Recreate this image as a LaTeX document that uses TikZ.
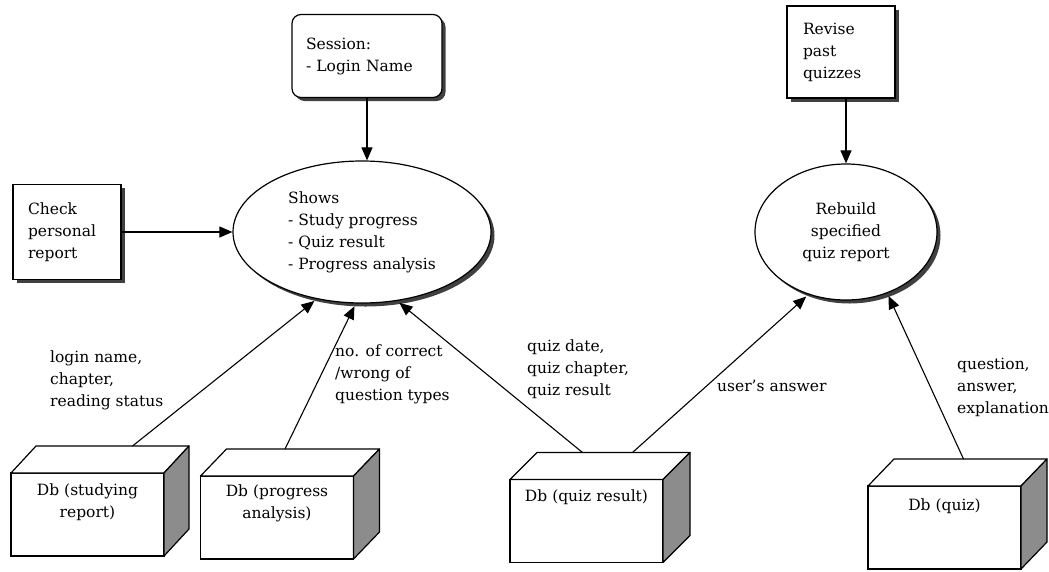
\documentclass[tikz,border=0pt]{standalone}
\usepackage{fontspec}
\setmainfont{DejaVu Serif}
\usetikzlibrary{shapes.geometric,arrows.meta,shadows}

\begin{document}
\begin{tikzpicture}[x=1pt,y=-1pt,
  every node/.style={font=\fontsize{15.5}{22}\selectfont},
  conn/.style={line width=1.1pt},
  arr/.style={conn,-{Triangle[length=13pt,width=11pt]}},
  solidshadow/.style={drop shadow={shadow xshift=3.5pt,shadow yshift=-3.5pt,opacity=1,fill=black!75}},
  plainbox/.style={draw,line width=1.2pt,fill=white,rectangle,solidshadow,inner ysep=0pt,align=left},
  oval/.style={draw,line width=1.2pt,fill=white,ellipse,inner sep=0pt,solidshadow},
  dbface/.style={draw,line width=1.2pt,fill=white,rectangle,inner sep=0pt,outer sep=0pt,
                 minimum width=153pt,minimum height=83pt},
  dbback/.style={rectangle,inner sep=0pt,outer sep=0pt,minimum width=153pt,minimum height=83pt},
  dbtop/.style={draw,line width=1.2pt,fill=white,line join=round},
  dbside/.style={draw,line width=1.2pt,fill=black!45,line join=round},
  dbtext/.style={align=center,anchor=north,inner sep=0pt},
  lbl/.style={align=left,anchor=west,inner sep=0pt}
]
\useasboundingbox (0,0) rectangle (1049,571);

% process boxes
\node[plainbox,rounded corners=9pt,minimum height=83pt,text width=122pt,inner xsep=14pt]
  (session) at (367,56) {Session:\\- Login Name};
\node[plainbox,minimum height=95pt,text width=78pt,inner xsep=15pt]
  (check) at (67,232) {Check\\personal\\report};
\node[plainbox,minimum height=92pt,text width=76pt,inner xsep=16pt]
  (revise) at (841,52) {Revise\\past\\quizzes};

% processes
\node[oval,minimum width=258pt,minimum height=142pt,align=left]
  (shows) at (362,232) {Shows\\- Study progress\\- Quiz result\\- Progress analysis};
\node[oval,minimum width=182pt,minimum height=136pt,align=center]
  (rebuild) at (846,232) {Rebuild\\specified\\quiz report};

% data stores: front faces and (invisible) back faces
\node[dbface] (db1) at (87.5,514.5) {};
\node[dbback] (db1b) at ([shift={(25,-27)}]db1.center) {};
\node[dbface] (db2) at (277,517.5) {};
\node[dbback] (db2b) at ([shift={(26,-27)}]db2.center) {};
\node[dbface] (db3) at (586.5,521) {};
\node[dbback] (db3b) at ([shift={(27,-27)}]db3.center) {};
\node[dbface] (db4) at (944.5,527.5) {};
\node[dbback] (db4b) at ([shift={(26,-27)}]db4.center) {};

\foreach \d in {db1,db2,db3,db4}{
  \draw[dbtop] (\d.north west) -- (\d b.north west) -- (\d b.north east) -- (\d.north east) -- cycle;
  \draw[dbside] (\d.north east) -- (\d b.north east) -- (\d b.south east) -- (\d.south east) -- cycle;
}

\node[dbtext] (t1) at ([yshift=-11pt]db1.north) {Db (studying\\report)};
\node[dbtext] (t2) at ([yshift=-9pt]db2.north) {Db (progress\\analysis)};
\node[dbtext] (t3) at ([yshift=-10pt]db3.north) {Db (quiz result)};
\node[dbtext] (t4) at ([yshift=-13pt]db4.north) {Db (quiz)};

% flows
\draw[arr] (session.south) -- (session.south |- shows.north);
\draw[arr] (check.east) -- (shows.west);
\draw[arr] (revise.south -| rebuild.north) -- (rebuild.north);

\draw[arr,shorten >=3pt] ([xshift=20pt]db1b.north) -- (shows.236);
\draw[arr,shorten >=3pt] ([xshift=-18pt]db2b.north) -- (shows.265);
\draw[arr,shorten >=3pt] ([xshift=-31pt]db3b.north) -- (shows.297);
\draw[arr,shorten >=3pt] ([xshift=19pt]db3b.north) -- (rebuild.239);
\draw[arr,shorten >=3pt] ([xshift=-7pt]db4b.north) -- (rebuild.304);

% flow labels
\node[lbl] (l1) at (50,380) {login name,\\chapter,\\reading status};
\node[lbl] (l2) at (335,374) {no. of correct\\/wrong of\\question types};
\node[lbl] (l3) at (527,369) {quiz date,\\quiz chapter,\\quiz result};
\node[lbl] (l4) at (717,386) {user’s answer};
\node[lbl] (l5) at (957,387) {question,\\answer,\\explanation};
\end{tikzpicture}
\end{document}
